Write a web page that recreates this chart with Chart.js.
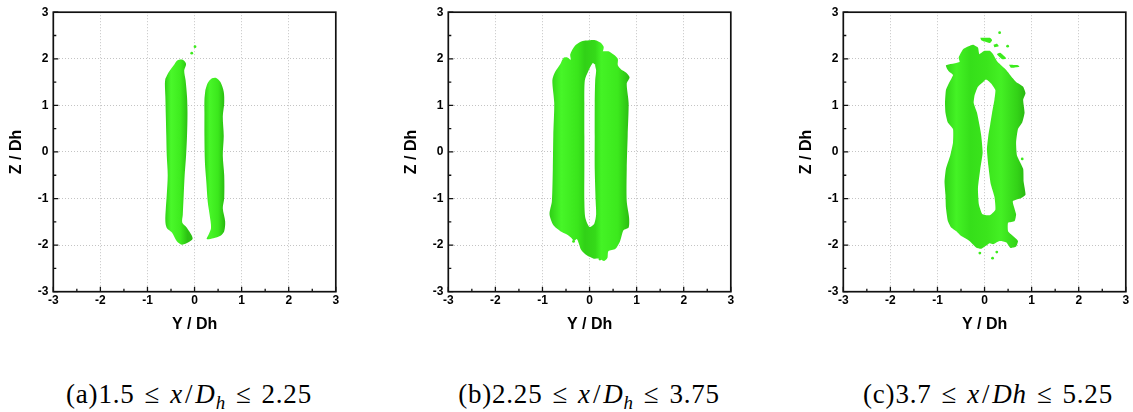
<!DOCTYPE html>
<html lang="en">
<head>
<meta charset="UTF-8">
<title>Isosurfaces Y-Z</title>
<script src="https://cdn.jsdelivr.net/npm/chart.js"></script>
<style>
    body {
        margin: 0;
        width: 1133px;
        height: 412px;
        overflow: hidden;
        position: relative;
        background: #fff;
    }

    canvas.panel {
        position: absolute;
        top: 0;
    }

    .caption {
        position: absolute;
        top: 379px;
        width: 400px;
        text-align: center;
        font-family: "Liberation Serif", serif;
        font-size: 27px;
        line-height: 30px;
        letter-spacing: 0.8px;
        color: #000;
        white-space: nowrap;
    }

    .caption .rel { margin: 0 10px; }
    .caption .sl { margin: 0 2px; }
    .caption sub { font-size: 70%; vertical-align: -0.3em; line-height: 0; }
</style>
</head>
<body>
<canvas id="panelA" class="panel" width="343" height="340" style="left:0px"></canvas>
<canvas id="panelB" class="panel" width="343" height="340" style="left:395px"></canvas>
<canvas id="panelC" class="panel" width="343" height="340" style="left:790px"></canvas>

<div class="caption" style="left:-11px">(a)1.5<span class="rel">≤</span><i>x</i><span class="sl">/</span><i>D</i><sub><i>h</i></sub><span class="rel">≤</span>2.25</div>
<div class="caption" style="left:389px">(b)2.25<span class="rel">≤</span><i>x</i><span class="sl">/</span><i>D</i><sub><i>h</i></sub><span class="rel">≤</span>3.75</div>
<div class="caption" style="left:788px">(c)3.7<span class="rel">≤</span><i>x</i><span class="sl">/</span><i>Dh</i><span class="rel">≤</span>5.25</div>

<script>
// axis ticks (labels) and the minor tick stops drawn inside the frame
const axisTicks = [-3, -2, -1, 0, 1, 2, 3];
const tickStops = [-3, -2.5, -2, -1.5, -1, -0.5, 0, 0.5, 1, 1.5, 2, 2.5, 3];

// (a) two separate vortex tubes, outlines in (Y/Dh, Z/Dh)
const tubeALeft = [[-0.62,1.57],[-0.55,1.71],[-0.45,1.85],[-0.36,1.97],[-0.25,1.98],[-0.18,1.89],[-0.22,1.75],[-0.19,1.54],
    [-0.16,1.19],[-0.15,0.83],[-0.16,0.34],[-0.18,-0.08],[-0.21,-0.50],[-0.23,-0.92],[-0.25,-1.35],[-0.26,-1.52],[-0.16,-1.63],
    [-0.04,-1.85],[-0.13,-1.94],[-0.27,-1.99],[-0.38,-1.91],[-0.48,-1.73],[-0.59,-1.63],[-0.62,-1.49],[-0.61,-1.21],[-0.59,-0.92],
    [-0.57,-0.50],[-0.59,-0.08],[-0.60,0.34],[-0.61,0.76],[-0.62,1.19],[-0.63,1.47],[-0.62,1.57]];
const tubeARight = [[0.23,1.33],[0.28,1.48],[0.37,1.58],[0.46,1.59],[0.55,1.50],[0.62,1.29],[0.63,1.05],[0.60,0.76],[0.62,0.34],
    [0.60,-0.08],[0.63,-0.50],[0.63,-0.99],[0.60,-1.21],[0.65,-1.49],[0.63,-1.70],[0.55,-1.80],[0.40,-1.85],[0.26,-1.87],[0.30,-1.77],
    [0.35,-1.63],[0.32,-1.35],[0.28,-1.07],[0.25,-0.64],[0.22,-0.22],[0.21,0.34],[0.21,0.83],[0.21,1.12],[0.23,1.33]];
const specksA = [[0.01,2.26],[-0.06,2.12]];

// (b) tubes joined top and bottom: outer contour, then the slit between them
const ringBOuter = [[0.28,2.16],[0.40,2.16],[0.51,2.09],[0.60,2.00],[0.60,1.86],[0.67,1.77],[0.78,1.70],[0.85,1.60],[0.79,1.47],
    [0.83,1.05],[0.81,0.35],[0.79,-0.36],[0.79,-1.06],[0.84,-1.41],[0.83,-1.62],[0.72,-1.68],[0.65,-1.91],[0.55,-2.08],[0.40,-2.13],
    [0.38,-2.27],[0.31,-2.34],[0.21,-2.29],[0.09,-2.29],[-0.06,-2.22],[-0.18,-2.10],[-0.23,-1.96],[-0.27,-1.87],[-0.33,-1.91],
    [-0.38,-1.85],[-0.48,-1.77],[-0.62,-1.70],[-0.77,-1.57],[-0.85,-1.34],[-0.80,-1.06],[-0.78,-0.36],[-0.77,0.35],[-0.75,1.05],
    [-0.79,1.54],[-0.73,1.72],[-0.62,1.89],[-0.55,2.02],[-0.47,2.03],[-0.40,1.98],[-0.41,2.10],[-0.31,2.28],[-0.20,2.36],
    [-0.09,2.39],[0.01,2.40],[0.12,2.40],[0.23,2.35],[0.30,2.26],[0.28,2.16]];
const ringBSlit = [[0.12,1.88],[0.07,1.91],[-0.02,1.75],[-0.10,1.54],[-0.11,1.05],[-0.11,0.35],[-0.11,-0.36],[-0.11,-1.06],
    [-0.09,-1.41],[0,-1.61],[0.10,-1.54],[0.14,-1.34],[0.13,-1.06],[0.11,-0.36],[0.11,0.35],[0.11,1.05],[0.12,1.54],[0.14,1.75],
    [0.12,1.88],[0.28,2.16]];
const specksB = [[-0.34,-1.92],[0.22,-2.30],[0.34,-2.26]];

// (c) broken-up ring further downstream
const ringCOuter = [[0,2.17],[0.11,2.17],[0.18,2.10],[0.28,1.93],[0.46,1.76],[0.60,1.58],[0.67,1.50],[0.82,1.40],[0.87,1.26],
    [0.82,1.12],[0.85,0.84],[0.80,0.63],[0.71,0.49],[0.67,0.20],[0.69,-0.08],[0.82,-0.36],[0.83,-0.64],[0.87,-0.92],[0.78,-0.99],
    [0.60,-1.06],[0.67,-1.34],[0.64,-1.48],[0.50,-1.52],[0.50,-1.70],[0.60,-1.80],[0.71,-1.91],[0.67,-2.03],[0.55,-2.06],
    [0.46,-1.94],[0.32,-1.91],[0.18,-1.98],[0.11,-1.96],[-0.07,-2.08],[-0.18,-2.05],[-0.32,-1.91],[-0.50,-1.80],[-0.60,-1.70],
    [-0.71,-1.62],[-0.78,-1.48],[-0.82,-1.20],[-0.83,-0.92],[-0.85,-0.64],[-0.82,-0.36],[-0.73,-0.08],[-0.67,0.20],[-0.67,0.49],
    [-0.78,0.63],[-0.83,0.84],[-0.84,1.05],[-0.82,1.33],[-0.76,1.47],[-0.67,1.65],[-0.75,1.72],[-0.80,1.79],[-0.82,1.86],
    [-0.53,1.93],[-0.55,2.03],[-0.45,2.21],[-0.25,2.30],[-0.14,2.24],[-0.11,2.10],[0,2.17]];
const ringCHole = [[0.01,1.55],[-0.14,1.40],[-0.21,1.22],[-0.23,1.05],[-0.16,0.84],[-0.11,0.59],[-0.07,0.35],[-0.04,-0.01],
    [-0.09,-0.36],[-0.14,-0.78],[-0.12,-1.13],[-0.05,-1.33],[0.11,-1.36],[0.23,-1.24],[0.21,-0.96],[0.13,-0.68],[0.08,-0.29],
    [0.05,0.06],[0.08,0.35],[0.12,0.59],[0.16,0.84],[0.21,1.12],[0.23,1.33],[0.14,1.47],[0.05,1.55],[0.01,1.55],[0,2.17]];
const flakeC1 = [[-0.09,2.45],[0.11,2.45],[0.16,2.40],[0.11,2.34],[0,2.37],[-0.07,2.40],[-0.09,2.45]];
const flakeC2 = [[0.19,2.30],[0.27,2.32],[0.30,2.27],[0.21,2.25],[0.19,2.30]];
const flakeC3 = [[0.26,2.10],[0.33,2.13],[0.46,2.01],[0.38,1.99],[0.26,2.10]];
const flakeC4 = [[0.52,1.87],[0.71,1.86],[0.74,1.83],[0.56,1.81],[0.52,1.87]];
const specksC = [[0.32,2.56],[0.49,2.27],[-0.10,-2.17],[0.17,-2.28],[0.26,-2.15],[0.80,-0.15],[0.78,-0.45]];

const green = '#3ceb1c';

// horizontal shading across a tube: [Y/Dh, colour] stops
const shadeA1 = [[-0.63,'#2fcf16'],[-0.50,'#4af82a'],[-0.30,'#3eec1e'],[-0.15,'#2cc113']];
const shadeA2 = [[0.21,'#32d417'],[0.32,'#48f628'],[0.50,'#3be81c'],[0.65,'#29b711']];
const shadeB = [[-0.85,'#2fcf16'],[-0.60,'#47f628'],[-0.25,'#3ae61b'],[-0.10,'#31d117'],[0.12,'#35da19'],[0.25,'#44f325'],[0.60,'#3ce91d'],[0.85,'#2bbc12']];
const shadeC = [[-0.85,'#31d317'],[-0.60,'#44f325'],[-0.30,'#36df1a'],[0.05,'#3be51c'],[0.35,'#44f024'],[0.70,'#33d217'],[0.87,'#2ab712']];

function toPoints(arr) {
    return arr.map(([x, y]) => ({ x, y }));
}

function shade(chart, stops) {
    const area = chart.chartArea;
    if (!area) return green;
    const xs = chart.scales.x;
    const grad = chart.ctx.createLinearGradient(area.left, 0, area.right, 0);
    stops.forEach(([v, c]) => {
        const f = (xs.getPixelForValue(v) - area.left) / (area.right - area.left);
        grad.addColorStop(Math.min(1, Math.max(0, f)), c);
    });
    return grad;
}

function surface(points, stops, tension) {
    return {
        data: toPoints(points),
        showLine: true,
        fill: 'shape',
        backgroundColor: stops ? (c) => shade(c.chart, stops) : green,
        borderWidth: 0,
        pointRadius: 0,
        tension: tension,
    };
}

function specks(points) {
    return {
        data: toPoints(points),
        showLine: false,
        pointRadius: 1.4,
        pointBackgroundColor: green,
        pointBorderWidth: 0,
    };
}

// frame with inward ticks on the left and bottom axes
const framePlugin = {
    id: 'frame',
    afterDraw(chart) {
        const { ctx, chartArea: a, scales: { x, y } } = chart;
        ctx.save();
        ctx.strokeStyle = '#111';
        ctx.lineWidth = 1.3;
        ctx.beginPath();
        tickStops.forEach((v) => {
            const len = Number.isInteger(v) ? 5 : 3;
            const px = x.getPixelForValue(v);
            ctx.moveTo(px, a.bottom);
            ctx.lineTo(px, a.bottom - len);
            const py = y.getPixelForValue(v);
            ctx.moveTo(a.left, py);
            ctx.lineTo(a.left + len, py);
        });
        ctx.stroke();
        ctx.lineWidth = 1.7;
        ctx.strokeRect(a.left, a.top, a.right - a.left, a.bottom - a.top);
        ctx.restore();
    }
};

const tickFont = { family: 'Liberation Sans', weight: 'bold', size: 12 };
const titleFont = { family: 'Liberation Sans', weight: 'bold', size: 16 };

function axis(title, isX) {
    return {
        type: 'linear',
        min: -3,
        max: 3,
        afterBuildTicks: (s) => { s.ticks = axisTicks.map((v) => ({ value: v })); },
        afterFit: (s) => {
            if (isX) s.height = 48.3; else s.width = 53.3;
        },
        grid: { color: '#c4c4c4', lineWidth: 1, drawTicks: false },
        border: { display: false, dash: [1, 2] },
        ticks: { font: tickFont, color: '#000', padding: isX ? 2 : 5, maxRotation: 0 },
        title: {
            display: true,
            text: title,
            font: titleFont,
            color: '#000',
            padding: isX ? { top: 0, bottom: 5.4 } : { top: 7, bottom: 0 },
        },
    };
}

function makePanel(id, datasets) {
    return new Chart(document.getElementById(id), {
        type: 'scatter',
        data: { datasets },
        options: {
            responsive: false,
            animation: false,
            devicePixelRatio: 1,
            layout: { padding: { top: 7.3, right: 7.2, bottom: 0, left: 0 } },
            plugins: { legend: { display: false }, tooltip: { enabled: false } },
            scales: { x: axis('Y / Dh', true), y: axis('Z / Dh', false) },
        },
        plugins: [framePlugin],
    });
}

makePanel('panelA', [
    surface(tubeALeft, shadeA1, 0.3),
    surface(tubeARight, shadeA2, 0.3),
    specks(specksA),
]);

makePanel('panelB', [
    surface(ringBOuter.concat(ringBSlit), shadeB, 0.25),
    specks(specksB),
]);

makePanel('panelC', [
    surface(ringCOuter.concat(ringCHole), shadeC, 0.15),
    surface(flakeC1, null, 0.2),
    surface(flakeC2, null, 0.2),
    surface(flakeC3, null, 0.2),
    surface(flakeC4, null, 0.2),
    specks(specksC),
]);
</script>
</body>
</html>
